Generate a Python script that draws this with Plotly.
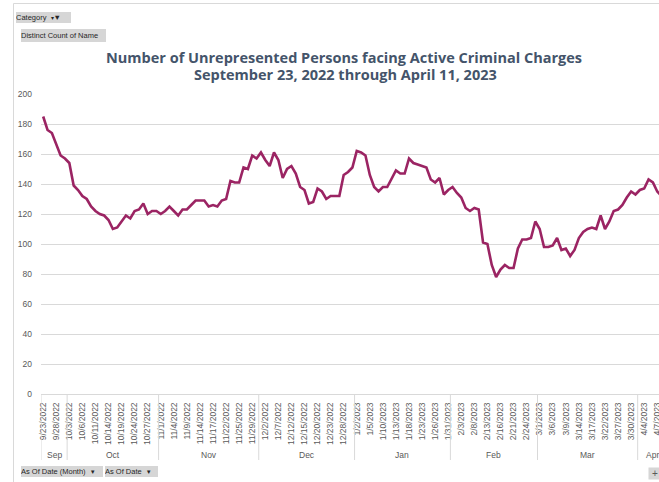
import plotly.graph_objects as go

# ---------------- data ----------------
dates = [
    "9/23/2022", "9/26/2022", "9/27/2022", "9/28/2022", "9/29/2022", "9/30/2022",
    "10/3/2022", "10/4/2022", "10/5/2022", "10/6/2022", "10/7/2022", "10/10/2022",
    "10/11/2022", "10/12/2022", "10/13/2022", "10/14/2022", "10/17/2022", "10/18/2022",
    "10/19/2022", "10/20/2022", "10/21/2022", "10/24/2022", "10/25/2022", "10/26/2022",
    "10/27/2022", "10/28/2022", "10/31/2022",
    "11/1/2022", "11/2/2022", "11/3/2022", "11/4/2022", "11/7/2022", "11/8/2022",
    "11/9/2022", "11/10/2022", "11/11/2022", "11/14/2022", "11/15/2022", "11/16/2022",
    "11/17/2022", "11/18/2022", "11/21/2022", "11/22/2022", "11/23/2022", "11/24/2022",
    "11/25/2022", "11/27/2022", "11/28/2022", "11/29/2022", "11/30/2022",
    "12/1/2022", "12/2/2022", "12/5/2022", "12/6/2022", "12/7/2022", "12/8/2022",
    "12/9/2022", "12/12/2022", "12/13/2022", "12/14/2022", "12/15/2022", "12/16/2022",
    "12/19/2022", "12/20/2022", "12/21/2022", "12/22/2022", "12/23/2022", "12/26/2022",
    "12/27/2022", "12/28/2022", "12/29/2022", "12/30/2022",
    "1/2/2023", "1/3/2023", "1/4/2023", "1/5/2023", "1/6/2023", "1/9/2023",
    "1/10/2023", "1/11/2023", "1/12/2023", "1/13/2023", "1/16/2023", "1/17/2023",
    "1/18/2023", "1/19/2023", "1/20/2023", "1/23/2023", "1/24/2023", "1/25/2023",
    "1/26/2023", "1/27/2023", "1/30/2023", "1/31/2023",
    "2/1/2023", "2/2/2023", "2/3/2023", "2/6/2023", "2/7/2023", "2/8/2023",
    "2/9/2023", "2/10/2023", "2/13/2023", "2/14/2023", "2/15/2023", "2/16/2023",
    "2/17/2023", "2/20/2023", "2/21/2023", "2/22/2023", "2/23/2023", "2/24/2023",
    "2/27/2023", "2/28/2023",
    "3/1/2023", "3/2/2023", "3/3/2023", "3/6/2023", "3/7/2023", "3/8/2023",
    "3/9/2023", "3/10/2023", "3/13/2023", "3/14/2023", "3/15/2023", "3/16/2023",
    "3/17/2023", "3/20/2023", "3/21/2023", "3/22/2023", "3/23/2023", "3/24/2023",
    "3/27/2023", "3/28/2023", "3/29/2023", "3/30/2023", "3/31/2023",
    "4/3/2023", "4/4/2023", "4/5/2023", "4/6/2023", "4/7/2023", "4/10/2023", "4/11/2023",
]

unrepresented = [
    185, 176, 174, 166, 159, 157,
    154, 139, 136, 132, 130, 125, 122, 120, 119, 116, 110, 111,
    115, 119, 117, 122, 123, 127, 120, 122, 122,
    120, 122, 125, 122, 119, 123, 123, 126, 129, 129, 129, 125,
    126, 125, 129, 130, 142, 141, 141, 151, 150, 159, 157,
    161, 156, 152, 161, 156, 144, 150, 152, 147, 138, 136, 127,
    128, 137, 135, 130, 132, 132, 132, 146, 148, 151,
    162, 161, 159, 146, 138, 135, 138, 138, 143, 149, 147, 147,
    157, 154, 153, 152, 151, 143, 141, 144, 133, 136,
    138, 134, 131, 124, 122, 124, 123, 101, 100, 86, 78, 83,
    86, 84, 84, 97, 103, 103, 104, 115,
    110, 98, 98, 99, 104, 96, 97, 92, 96, 104, 108, 110,
    111, 110, 119, 110, 115, 122, 123, 126, 131, 135, 133,
    136, 137, 143, 141, 135, 132, 130,
]

month_names = {9: "Sep", 10: "Oct", 11: "Nov", 12: "Dec", 1: "Jan", 2: "Feb", 3: "Mar", 4: "Apr"}
y_ticks = [0, 20, 40, 60, 80, 100, 120, 140, 160, 180, 200]
tick_dates = dates[::3]

title_line1 = "Number of Unrepresented Persons facing Active Criminal Charges"
title_line2 = "September 23, 2022 through April 11, 2023"

# ---------------- layout geometry ----------------
W, H = 659, 482
ML, MR, MT, MB = 41, 0, 94, 88
PW, PH = W - ML - MR, H - MT - MB


def px(xp):
    return (xp - ML) / PW


def py(yp):
    return (H - MB - yp) / PH


GRID = "#d9d9d9"
TXT = "#595959"
LINE = "#9b2463"
FONT = "Liberation Sans"

fig = go.Figure()
fig.add_trace(go.Scatter(
    x=dates, y=unrepresented, mode="lines",
    line=dict(color=LINE, width=2.6),
    hoverinfo="x+y", showlegend=False,
))

# month groups from the dates
groups = []
for i, d in enumerate(dates):
    m = int(d.split("/")[0])
    if groups and groups[-1][0] == m:
        groups[-1][2] = i
    else:
        groups.append([m, i, i])

shapes = []
annotations = []
div_bottom = py(460)
for gi, (m, a, b) in enumerate(groups):
    shapes.append(dict(type="line", xref="x", yref="paper", x0=a - 0.5, x1=a - 0.5,
                       y0=0, y1=div_bottom, line=dict(color=GRID, width=1)))
    annotations.append(dict(xref="x", yref="paper", x=(a + b) / 2, y=py(455),
                            text=month_names[m], showarrow=False,
                            font=dict(family=FONT, size=8.5, color=TXT),
                            xanchor="center", yanchor="middle"))

# chart frame (left and top border)
shapes.append(dict(type="line", xref="paper", yref="paper", x0=px(13.5), x1=px(13.5),
                   y0=py(3.5), y1=py(H + 5), line=dict(color=GRID, width=1)))
shapes.append(dict(type="line", xref="paper", yref="paper", x0=px(13.5), x1=px(W + 5),
                   y0=py(3.5), y1=py(3.5), line=dict(color=GRID, width=1)))


def button(text, x0, y0, x1, y1, size=7.5):
    annotations.append(dict(
        xref="paper", yref="paper", x=px(x0), y=py(y0), xanchor="left", yanchor="top",
        text=text, showarrow=False, align="left", valign="middle",
        width=x1 - x0, height=y1 - y0, borderpad=0, borderwidth=0,
        bgcolor="#d6d6d6", font=dict(family=FONT, size=size, color="#262626"),
    ))


button("Category &nbsp;<span style='font-size:6px'>▾</span>▼", 16, 11.5, 71, 22.5)
button("Distinct Count of Name", 21, 29, 106, 41.5)
button("As Of Date (Month) &nbsp;<span style='font-size:6px'>▼</span>", 21, 466, 103, 477)
button("As Of Date &nbsp;<span style='font-size:6px'>▼</span>", 104.5, 466, 157, 477)
annotations.append(dict(
    xref="paper", yref="paper", x=px(648), y=py(466.5), xanchor="left", yanchor="top",
    text="+", showarrow=False, width=12, height=11, bgcolor="#d6d6d6",
    font=dict(family=FONT, size=10, color="#595959"), borderpad=0,
))

# title
TITLE_C = "#44546a"
annotations.append(dict(xref="paper", yref="paper", x=px(344), y=py(57), text="<b>" + title_line1 + "</b>",
                        showarrow=False, xanchor="center", yanchor="middle",
                        font=dict(family="Open Sans", size=14.5, color=TITLE_C)))
annotations.append(dict(xref="paper", yref="paper", x=px(345), y=py(74), text="<b>" + title_line2 + "</b>",
                        showarrow=False, xanchor="center", yanchor="middle",
                        font=dict(family="Open Sans", size=14.5, color=TITLE_C)))

fig.update_layout(
    width=W, height=H, template="none",
    margin=dict(l=ML, r=MR, t=MT, b=MB, pad=0, autoexpand=False),
    paper_bgcolor="white", plot_bgcolor="white",
    showlegend=False,
    shapes=shapes, annotations=annotations,
    xaxis=dict(type="category", range=[-0.5, 141.4], tickmode="array",
               tickvals=tick_dates, ticktext=tick_dates, tickangle=-90,
               tickfont=dict(family=FONT, size=8.5, color=TXT),
               showgrid=False, zeroline=False, showline=True, linecolor=GRID, linewidth=1,
               ticks="", ticklabelstandoff=4, automargin=False, fixedrange=True),
    yaxis=dict(range=[0, 200], tickmode="array", tickvals=y_ticks,
               tickfont=dict(family=FONT, size=8.5, color=TXT),
               showgrid=True, gridcolor=GRID, gridwidth=1, zeroline=False, showline=False,
               ticks="", ticklabelstandoff=8, automargin=False, fixedrange=True),
)

fig.write_html("out.html", config={"displayModeBar": False},
               post_script="document.body.style.margin='0px';document.body.style.padding='0px';")
